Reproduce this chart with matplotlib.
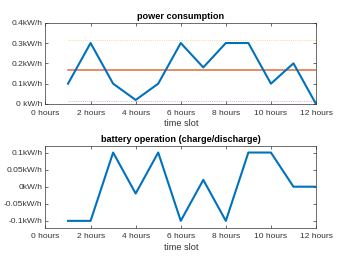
import matplotlib
matplotlib.use("Agg")
import matplotlib.pyplot as plt

hours = [1, 2, 3, 4, 5, 6, 7, 8, 9, 10, 11, 12]
power = [0.1, 0.3, 0.1, 0.02, 0.1, 0.3, 0.18, 0.3, 0.3, 0.1, 0.2, 0.0]
battery = [-0.1, -0.1, 0.1, -0.02, 0.1, -0.1, 0.02, -0.1, 0.1, 0.1, 0.0, 0.0]
mean_level = 0.1667
upper_level = 0.317
lower_level = 0.017

xticks = [0, 2, 4, 6, 8, 10, 12]
xticklabels = ["0 hours", "2 hours", "4 hours", "6 hours", "8 hours", "10 hours", "12 hours"]
p_yticks = [0, 0.1, 0.2, 0.3, 0.4]
p_yticklabels = ["0 kW/h", "0.1kW/h", "0.2kW/h", "0.3kW/h", "0.4kW/h"]
b_yticks = [-0.1, -0.05, 0, 0.05, 0.1]
b_yticklabels = ["-0.1kW/h", "-0.05kW/h", "0kW/h", "0.05kW/h", "0.1kW/h"]

plt.rcParams['font.family'] = ['Liberation Sans', 'DejaVu Sans']
fs = 6.0
fl = 6.6
grey = '#333333'

fig = plt.figure(figsize=(3.49, 2.62), dpi=100)
W, H = 349, 262
ax1 = fig.add_axes([45.5 / W, 1 - 104 / H, (316 - 45.5) / W, (104 - 22.7) / H])
ax2 = fig.add_axes([45.5 / W, 1 - 227.7 / H, (316 - 45.5) / W, (227.7 - 145.7) / H])

blue = '#0072BD'
ax1.plot(hours, power, color=blue, lw=1.5, zorder=5)
ax1.plot([hours[0], hours[-1]], [mean_level, mean_level], color='#D95319', lw=1.1, alpha=0.85, zorder=4)
ax1.plot([hours[0], hours[-1]], [upper_level, upper_level], color='#EDB120', lw=0.5, ls=':', alpha=0.8, zorder=3)
ax1.plot([hours[0], hours[-1]], [lower_level, lower_level], color='#B050C0', lw=0.5, ls=':', alpha=0.8, zorder=3)
ax1.set_ylim(0, 0.4)
ax1.set_yticks(p_yticks)
ax1.set_yticklabels(p_yticklabels)
ax1.set_title("power consumption", fontsize=fl, fontweight='bold', pad=2.5, color='black')

ax2.plot(hours, battery, color=blue, lw=1.5)
ax2.set_ylim(-0.12, 0.12)
ax2.set_yticks(b_yticks)
ax2.set_yticklabels(b_yticklabels)
ax2.set_title("battery operation (charge/discharge)", fontsize=fl, fontweight='bold', pad=2.5, color='black')

for ax in (ax1, ax2):
    ax.set_xlim(0, 12)
    ax.set_xticks(xticks)
    ax.set_xticklabels(xticklabels)
    ax.set_xlabel("time slot", fontsize=fl, color=grey, labelpad=2)
    ax.tick_params(direction='in', length=2, width=0.5, labelsize=fs, colors=grey, pad=2,
                   top=True, right=True)
    ax.tick_params(axis='x', pad=4)
    for s in ax.spines.values():
        s.set_linewidth(0.5)
        s.set_color(grey)

fig.savefig("out.png", dpi=100)
